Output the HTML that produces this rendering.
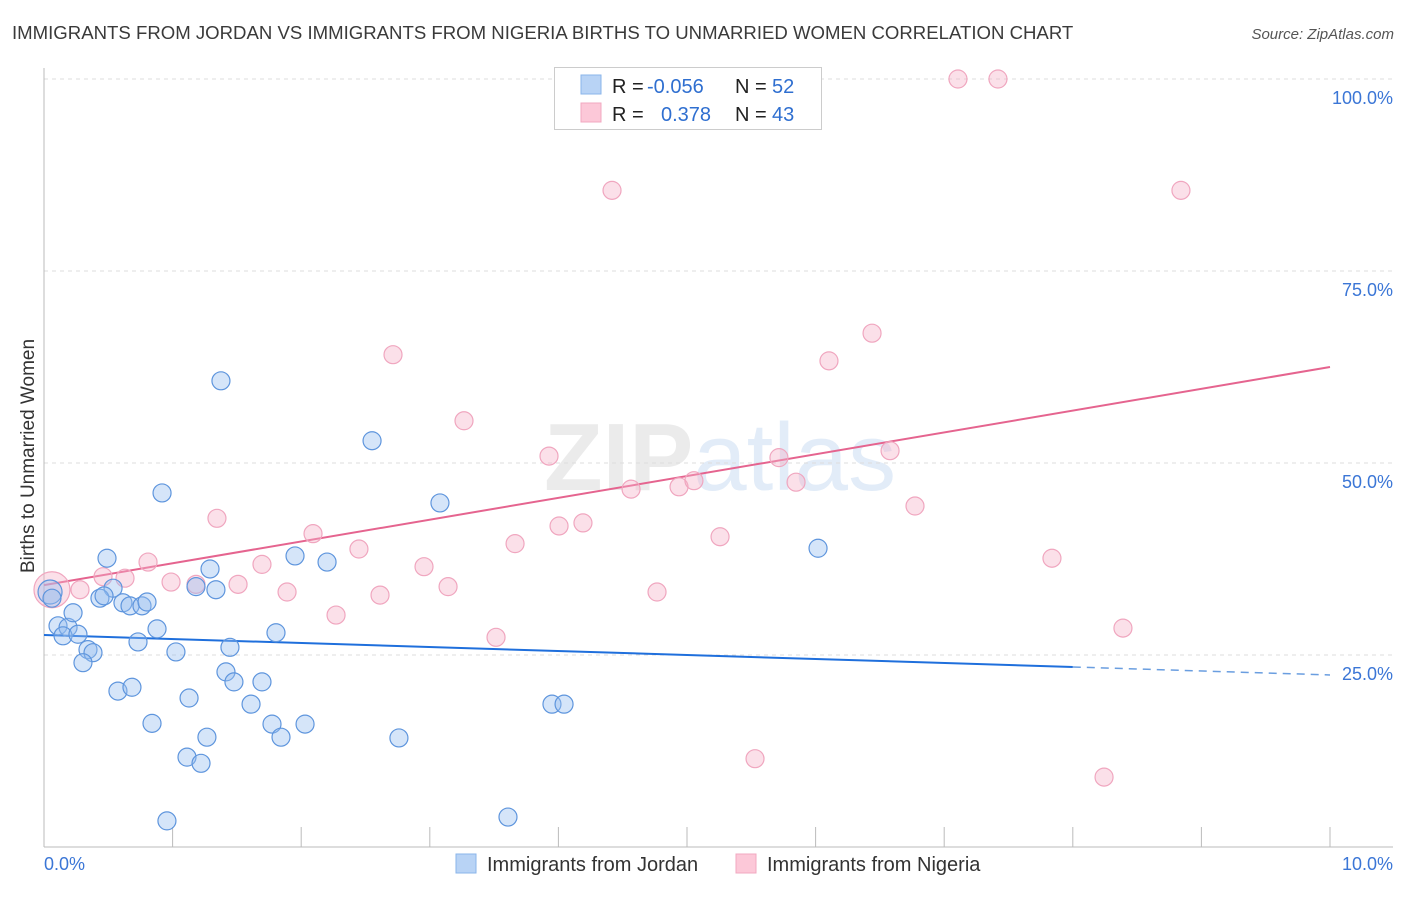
<!DOCTYPE html>
<html><head><meta charset="utf-8">
<style>
body{margin:0;background:#fff;font-family:"Liberation Sans",sans-serif;}
svg text{font-family:"Liberation Sans",sans-serif;}
</style></head>
<body>
<svg id="chart" width="1406" height="892" viewBox="0 0 1406 892" xmlns="http://www.w3.org/2000/svg">
<text x="12" y="39" font-size="18.6" fill="#3a3a3a">IMMIGRANTS FROM JORDAN VS IMMIGRANTS FROM NIGERIA BIRTHS TO UNMARRIED WOMEN CORRELATION CHART</text>
<text x="1394" y="39" font-size="15" font-style="italic" fill="#555" text-anchor="end">Source: ZipAtlas.com</text>
<text x="720" y="490" font-size="96" fill="#ebebeb" text-anchor="middle" font-weight="bold">ZIP<tspan fill="#e2ecf8" font-weight="normal">atlas</tspan></text>
<g id="grid"></g>
<g id="axes"></g>
<g id="trend"></g>
<g id="points"></g>
<g>
<rect x="554.5" y="67.5" width="267" height="62" fill="#fff" stroke="#ccc"/>
<rect x="581" y="75" width="20" height="19" fill="#b8d3f5" stroke="#8ab4ea"/>
<rect x="581" y="103" width="20" height="19" fill="#fcc8d8" stroke="#f2a8c0"/>
<text x="612" y="93" font-size="20" fill="#222">R = <tspan fill="#2f6fd0" x="647">-0.056</tspan></text>
<text x="735" y="93" font-size="20" fill="#222">N = <tspan fill="#2f6fd0" x="772">52</tspan></text>
<text x="612" y="121" font-size="20" fill="#222">R = <tspan fill="#2f6fd0" x="661">0.378</tspan></text>
<text x="735" y="121" font-size="20" fill="#222">N = <tspan fill="#2f6fd0" x="772">43</tspan></text>
</g>
<text transform="translate(34,456) rotate(-90)" font-size="19" fill="#333" text-anchor="middle">Births to Unmarried Women</text>
<g>
<rect x="456" y="854" width="20" height="19" fill="#b8d3f5" stroke="#8ab4ea"/>
<text x="487" y="871" font-size="20" fill="#333">Immigrants from Jordan</text>
<rect x="736" y="854" width="20" height="19" fill="#fcc8d8" stroke="#f2a8c0"/>
<text x="767" y="871" font-size="20" fill="#333">Immigrants from Nigeria</text>
</g>
</svg>
<script>
const yTicks=[25,50,75,100];
const yTickLabels=["25.0%","50.0%","75.0%","100.0%"];
const xTickCount=10;
const jordanX=[0.047,0.062,0.109,0.187,0.226,0.148,0.264,0.342,0.381,0.303,0.490,0.537,0.435,0.467,0.614,0.669,0.762,0.801,0.731,0.879,0.575,0.684,0.918,0.840,1.026,1.128,1.112,1.221,1.267,1.291,1.182,1.337,1.376,1.446,1.415,1.477,1.610,1.695,1.773,1.843,1.804,1.952,2.030,2.201,2.551,2.760,3.079,3.608,3.950,4.044,6.019,0.956];
const jordanY=[33.2,32.4,28.8,28.6,30.5,27.5,27.7,25.7,25.3,24.0,37.6,33.7,32.4,32.7,31.8,31.4,31.4,31.9,26.7,28.4,20.3,20.8,46.1,16.1,25.4,19.4,11.7,10.9,14.3,36.2,33.9,33.5,60.7,26.0,22.8,21.5,18.6,21.5,16.0,14.3,27.9,37.9,16.0,37.1,52.9,14.2,44.8,3.9,18.6,18.6,38.9,3.4];
const nigeriaX=[0.062,0.280,0.459,0.630,0.809,0.988,1.182,1.345,1.509,1.695,1.890,2.092,2.271,2.449,2.613,2.714,2.955,3.142,3.266,3.515,3.663,3.927,4.005,4.191,4.417,4.565,4.767,4.938,5.054,5.257,5.529,5.715,5.848,6.104,6.439,6.579,6.773,7.107,7.418,7.838,8.243,8.390,8.841];
const nigeriaY=[33.5,33.5,35.2,35.0,37.1,34.5,34.2,42.8,34.2,36.8,33.2,40.8,30.2,38.8,32.8,64.1,36.5,33.9,55.5,27.3,39.5,50.9,41.8,42.2,85.5,46.6,33.2,46.9,47.7,40.4,11.5,50.7,47.5,63.3,66.9,51.6,44.4,100,100,37.6,9.1,28.5,85.5];
const jordanTrend=[27.6,22.4];
const nigeriaTrend=[34.1,62.5];
const NS="http://www.w3.org/2000/svg";
const X0=44,X1=1330,Y0=847,Y100=79;
function sx(v){return X0+(X1-X0)*v/10;}
function sy(v){return Y0-(Y0-Y100)*v/100;}
function mk(tag,attrs,parent){const e=document.createElementNS(NS,tag);for(const k in attrs)e.setAttribute(k,attrs[k]);document.getElementById(parent).appendChild(e);return e;}
yTicks.forEach((t,i)=>{
 const l=mk('line',{x1:X0,x2:1393,y1:sy(t),y2:sy(t),stroke:'#ddd','stroke-dasharray':'4,4'},'grid');
 
 
 const tx=mk('text',{x:1393,y:sy(t)+25,'font-size':18,fill:'#3b76d6','text-anchor':'end'},'grid');
 tx.textContent=yTickLabels[i];
 
 
});
let a=mk('line',{x1:X0,x2:X0,y1:68,y2:Y0,stroke:'#bbb'},'axes');


a=mk('line',{x1:X0,x2:1393,y1:Y0,y2:Y0,stroke:'#bbb'},'axes');


for(let i=1;i<=xTickCount;i++){
 const t=mk('line',{x1:sx(i),x2:sx(i),y1:827,y2:Y0,stroke:'#bbb'},'axes');
 
 
}
let t=mk('text',{x:44,y:870,'font-size':18,fill:'#3b76d6'},'axes');t.textContent='0.0%';


t=mk('text',{x:1393,y:870,'font-size':18,fill:'#3b76d6','text-anchor':'end'},'axes');t.textContent='10.0%';


function pts(xs,ys,fill,stroke,name,bigR){
 xs.forEach((x,i)=>{
  const c=mk('circle',{cx:sx(x),cy:sy(ys[i]),r:i===0?bigR:9,fill:fill,stroke:stroke,'stroke-width':1.2},'points');
  
  
 });
}
pts(nigeriaX,nigeriaY,'rgba(246,178,200,0.4)','#f0a6bf','nigeria-point',18);
pts(jordanX,jordanY,'rgba(150,190,240,0.4)','#5e95dd','jordan-point',12);
const xSolid=8;
let ln=mk('line',{x1:sx(0),y1:sy(jordanTrend[0]),x2:sx(xSolid),y2:sy(jordanTrend[0]+(jordanTrend[1]-jordanTrend[0])*xSolid/10),stroke:'#1f6fdc','stroke-width':2},'trend');


ln=mk('line',{x1:sx(xSolid),y1:sy(jordanTrend[0]+(jordanTrend[1]-jordanTrend[0])*xSolid/10),x2:sx(10),y2:sy(jordanTrend[1]),stroke:'#6a9ee0','stroke-width':1.5,'stroke-dasharray':'8,6'},'trend');


ln=mk('line',{x1:sx(0),y1:sy(nigeriaTrend[0]),x2:sx(10),y2:sy(nigeriaTrend[1]),stroke:'#e5648f','stroke-width':2},'trend');


</script>
</body></html>
